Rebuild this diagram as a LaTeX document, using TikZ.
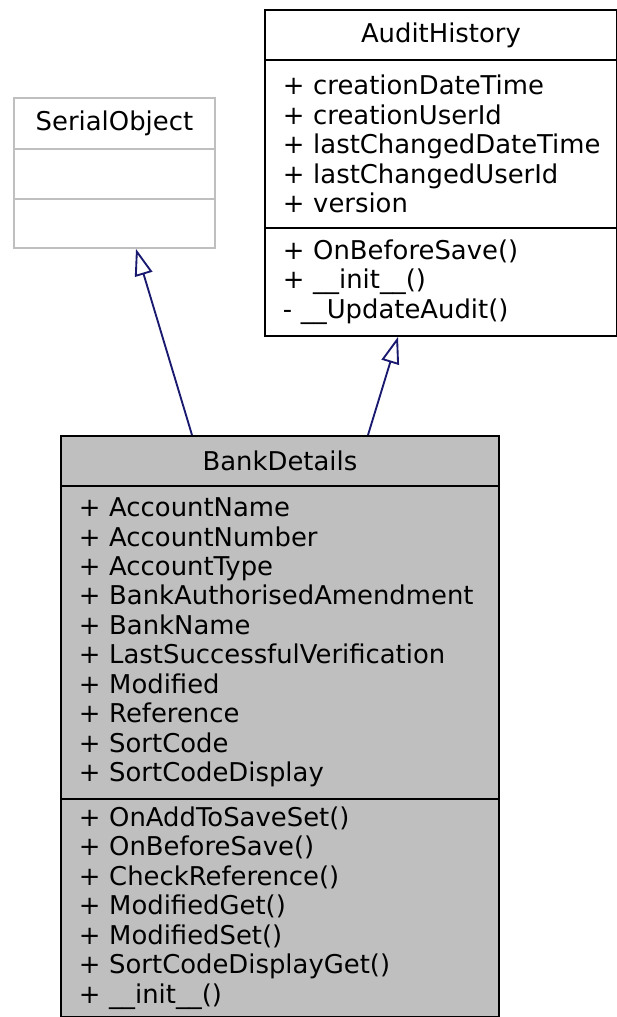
\documentclass[tikz,border=0pt]{standalone}
\usepackage{fontspec}
\setmainfont{DejaVu Sans}
\usetikzlibrary{arrows.meta}
\definecolor{umlgray}{HTML}{BFBFBF}
\definecolor{umlblue}{HTML}{191970}
\begin{document}
\begin{tikzpicture}[x=0.75pt, y=-0.75pt]

\tikzstyle{every node} = [rectangle, draw, line width=1.4pt, inner xsep=13.5pt, inner ysep=0pt, anchor=north west, font=\fontsize{19.4}{22.1}\selectfont]
\tikzstyle{title} = [align=center]
\tikzstyle{members} = [align=left, execute at begin node={\hyphenpenalty=10000}]
\tikzstyle{inherit} = [draw=umlblue, line width=1.4pt, -{Triangle[open, length=20pt, width=13.5pt]}]

\useasboundingbox (0,0) rectangle (617,1017);

% SerialObject
\node[title, draw=umlgray, minimum width=150.75pt, minimum height=38.25pt] (s1) at (13,97) {SerialObject};
\node[members, draw=umlgray, minimum width=150.75pt, minimum height=37.5pt] (s2) at (13,148) {};
\node[members, draw=umlgray, minimum width=150.75pt, minimum height=36.75pt] (s3) at (13,198) {};

% AuditHistory
\node[title, minimum width=264pt, minimum height=37.5pt] (a1) at (264,9) {AuditHistory};
\node[members, text width=237pt, minimum height=126pt] (a2) at (264,59) {+~creationDateTime\\+~creationUserId\\+~lastChangedDateTime\\+~lastChangedUserId\\+~version};
\node[members, text width=237pt, minimum height=81pt] (a3) at (264,227) {+~OnBeforeSave()\\+~\_\_init\_\_()\\-~\_\_UpdateAudit()};

% BankDetails
\node[title, fill=umlgray, minimum width=328.5pt, minimum height=37.5pt] (b1) at (60,435) {BankDetails};
\node[members, fill=umlgray, text width=301.5pt, minimum height=234.75pt] (b2) at (60,485) {+~AccountName\\+~AccountNumber\\+~AccountType\\+~BankAuthorisedAmendment\\+~BankName\\+~LastSuccessfulVerification\\+~Modified\\+~Reference\\+~SortCode\\+~SortCodeDisplay};
\node[members, fill=umlgray, text width=301.5pt, minimum height=163.5pt] (b3) at (60,798) {+~OnAddToSaveSet()\\+~OnBeforeSave()\\+~CheckReference()\\+~ModifiedGet()\\+~ModifiedSet()\\+~SortCodeDisplayGet()\\+~\_\_init\_\_()};

\draw[inherit] ([xshift=99pt]b1.north west) -- ([xshift=92.25pt]s3.south west);
\draw[inherit] ([xshift=231pt]b1.north west) -- ([xshift=100.5pt]a3.south west);

\end{tikzpicture}
\end{document}
